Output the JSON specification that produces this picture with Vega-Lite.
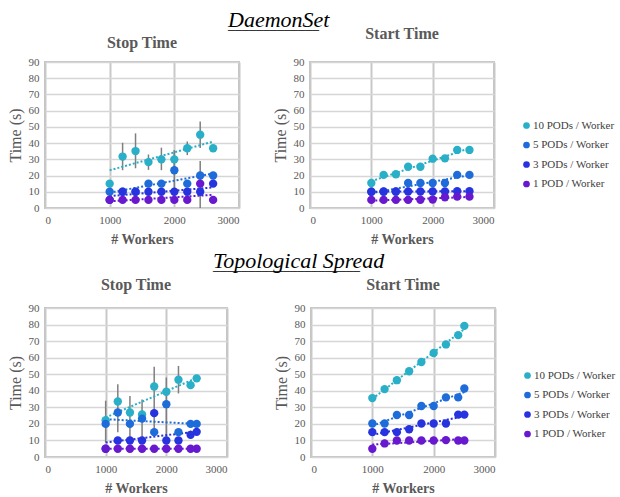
{
  "$schema": "https://vega.github.io/schema/vega-lite/v6.json",
  "padding": {"left": 6, "top": 9, "right": 0, "bottom": 0},
  "background": "white",
  "datasets": {
    "d": [
      {"p": "a", "s": "10 PODs / Worker", "x": 1000, "y": 15},
      {"p": "a", "s": "10 PODs / Worker", "x": 1200, "y": 31.7, "lo": 23.3, "hi": 40.2},
      {"p": "a", "s": "10 PODs / Worker", "x": 1400, "y": 35.1, "lo": 24.5, "hi": 46},
      {"p": "a", "s": "10 PODs / Worker", "x": 1600, "y": 28.3, "lo": 23.5, "hi": 33},
      {"p": "a", "s": "10 PODs / Worker", "x": 1800, "y": 30, "lo": 23.3, "hi": 37.2},
      {"p": "a", "s": "10 PODs / Worker", "x": 2000, "y": 30, "lo": 24.5, "hi": 35.5},
      {"p": "a", "s": "10 PODs / Worker", "x": 2200, "y": 36.8, "lo": 32.6, "hi": 41},
      {"p": "a", "s": "10 PODs / Worker", "x": 2400, "y": 45.2, "lo": 37, "hi": 53.3},
      {"p": "a", "s": "10 PODs / Worker", "x": 2600, "y": 36.8},
      {"p": "a", "s": "5 PODs / Worker", "x": 1000, "y": 10},
      {"p": "a", "s": "5 PODs / Worker", "x": 1200, "y": 10},
      {"p": "a", "s": "5 PODs / Worker", "x": 1400, "y": 10},
      {"p": "a", "s": "5 PODs / Worker", "x": 1600, "y": 15},
      {"p": "a", "s": "5 PODs / Worker", "x": 1800, "y": 15},
      {"p": "a", "s": "5 PODs / Worker", "x": 2000, "y": 23.3, "lo": 10, "hi": 35.5},
      {"p": "a", "s": "5 PODs / Worker", "x": 2200, "y": 15},
      {"p": "a", "s": "5 PODs / Worker", "x": 2400, "y": 20, "lo": 0, "hi": 29},
      {"p": "a", "s": "5 PODs / Worker", "x": 2600, "y": 20},
      {"p": "a", "s": "3 PODs / Worker", "x": 1000, "y": 5},
      {"p": "a", "s": "3 PODs / Worker", "x": 1200, "y": 10},
      {"p": "a", "s": "3 PODs / Worker", "x": 1400, "y": 10},
      {"p": "a", "s": "3 PODs / Worker", "x": 1600, "y": 10},
      {"p": "a", "s": "3 PODs / Worker", "x": 1800, "y": 10},
      {"p": "a", "s": "3 PODs / Worker", "x": 2000, "y": 10},
      {"p": "a", "s": "3 PODs / Worker", "x": 2200, "y": 10},
      {"p": "a", "s": "3 PODs / Worker", "x": 2400, "y": 10},
      {"p": "a", "s": "3 PODs / Worker", "x": 2600, "y": 15},
      {"p": "a", "s": "1 POD / Worker", "x": 1000, "y": 5},
      {"p": "a", "s": "1 POD / Worker", "x": 1200, "y": 5},
      {"p": "a", "s": "1 POD / Worker", "x": 1400, "y": 5},
      {"p": "a", "s": "1 POD / Worker", "x": 1600, "y": 5},
      {"p": "a", "s": "1 POD / Worker", "x": 1800, "y": 5},
      {"p": "a", "s": "1 POD / Worker", "x": 2000, "y": 5},
      {"p": "a", "s": "1 POD / Worker", "x": 2200, "y": 5},
      {"p": "a", "s": "1 POD / Worker", "x": 2400, "y": 15},
      {"p": "a", "s": "1 POD / Worker", "x": 2600, "y": 5},

      {"p": "b", "s": "10 PODs / Worker", "x": 1000, "y": 15.4},
      {"p": "b", "s": "10 PODs / Worker", "x": 1200, "y": 20.4},
      {"p": "b", "s": "10 PODs / Worker", "x": 1400, "y": 20.8},
      {"p": "b", "s": "10 PODs / Worker", "x": 1600, "y": 25.4},
      {"p": "b", "s": "10 PODs / Worker", "x": 1800, "y": 25.4},
      {"p": "b", "s": "10 PODs / Worker", "x": 2000, "y": 30.4},
      {"p": "b", "s": "10 PODs / Worker", "x": 2200, "y": 30.6},
      {"p": "b", "s": "10 PODs / Worker", "x": 2400, "y": 35.8},
      {"p": "b", "s": "10 PODs / Worker", "x": 2600, "y": 35.8},
      {"p": "b", "s": "5 PODs / Worker", "x": 1000, "y": 10},
      {"p": "b", "s": "5 PODs / Worker", "x": 1200, "y": 10},
      {"p": "b", "s": "5 PODs / Worker", "x": 1400, "y": 10},
      {"p": "b", "s": "5 PODs / Worker", "x": 1600, "y": 15.4},
      {"p": "b", "s": "5 PODs / Worker", "x": 1800, "y": 15.4},
      {"p": "b", "s": "5 PODs / Worker", "x": 2000, "y": 15.4},
      {"p": "b", "s": "5 PODs / Worker", "x": 2200, "y": 15.4},
      {"p": "b", "s": "5 PODs / Worker", "x": 2400, "y": 20.4},
      {"p": "b", "s": "5 PODs / Worker", "x": 2600, "y": 20.4},
      {"p": "b", "s": "3 PODs / Worker", "x": 1000, "y": 10},
      {"p": "b", "s": "3 PODs / Worker", "x": 1200, "y": 10.2},
      {"p": "b", "s": "3 PODs / Worker", "x": 1400, "y": 10.2},
      {"p": "b", "s": "3 PODs / Worker", "x": 1600, "y": 10.2},
      {"p": "b", "s": "3 PODs / Worker", "x": 1800, "y": 10.2},
      {"p": "b", "s": "3 PODs / Worker", "x": 2000, "y": 10.2},
      {"p": "b", "s": "3 PODs / Worker", "x": 2200, "y": 10.2},
      {"p": "b", "s": "3 PODs / Worker", "x": 2400, "y": 10.4},
      {"p": "b", "s": "3 PODs / Worker", "x": 2600, "y": 10.4},
      {"p": "b", "s": "1 POD / Worker", "x": 1000, "y": 5},
      {"p": "b", "s": "1 POD / Worker", "x": 1200, "y": 5},
      {"p": "b", "s": "1 POD / Worker", "x": 1400, "y": 5},
      {"p": "b", "s": "1 POD / Worker", "x": 1600, "y": 5},
      {"p": "b", "s": "1 POD / Worker", "x": 1800, "y": 5.1},
      {"p": "b", "s": "1 POD / Worker", "x": 2000, "y": 5.2},
      {"p": "b", "s": "1 POD / Worker", "x": 2200, "y": 6.6, "lo": 5.3, "hi": 7.8},
      {"p": "b", "s": "1 POD / Worker", "x": 2400, "y": 7, "lo": 5.5, "hi": 8.3},
      {"p": "b", "s": "1 POD / Worker", "x": 2600, "y": 7, "lo": 5.5, "hi": 8.3},

      {"p": "c", "s": "10 PODs / Worker", "x": 1000, "y": 22.2, "lo": 8.7, "hi": 34},
      {"p": "c", "s": "10 PODs / Worker", "x": 1200, "y": 33.5, "lo": 15, "hi": 44},
      {"p": "c", "s": "10 PODs / Worker", "x": 1400, "y": 26.9, "lo": 10, "hi": 36.8},
      {"p": "c", "s": "10 PODs / Worker", "x": 1600, "y": 25.7, "lo": 9.7, "hi": 34.7},
      {"p": "c", "s": "10 PODs / Worker", "x": 1800, "y": 42.6, "lo": 15, "hi": 54.5},
      {"p": "c", "s": "10 PODs / Worker", "x": 2000, "y": 39.4, "lo": 10, "hi": 48},
      {"p": "c", "s": "10 PODs / Worker", "x": 2200, "y": 46.7, "lo": 38.4, "hi": 55},
      {"p": "c", "s": "10 PODs / Worker", "x": 2400, "y": 43.4},
      {"p": "c", "s": "10 PODs / Worker", "x": 2500, "y": 47.5},
      {"p": "c", "s": "5 PODs / Worker", "x": 1000, "y": 20},
      {"p": "c", "s": "5 PODs / Worker", "x": 1200, "y": 26.9},
      {"p": "c", "s": "5 PODs / Worker", "x": 1400, "y": 20},
      {"p": "c", "s": "5 PODs / Worker", "x": 1600, "y": 23.2},
      {"p": "c", "s": "5 PODs / Worker", "x": 1800, "y": 15},
      {"p": "c", "s": "5 PODs / Worker", "x": 2000, "y": 31.9},
      {"p": "c", "s": "5 PODs / Worker", "x": 2200, "y": 15},
      {"p": "c", "s": "5 PODs / Worker", "x": 2400, "y": 20},
      {"p": "c", "s": "5 PODs / Worker", "x": 2500, "y": 20},
      {"p": "c", "s": "3 PODs / Worker", "x": 1000, "y": 5},
      {"p": "c", "s": "3 PODs / Worker", "x": 1200, "y": 10},
      {"p": "c", "s": "3 PODs / Worker", "x": 1400, "y": 10},
      {"p": "c", "s": "3 PODs / Worker", "x": 1600, "y": 10},
      {"p": "c", "s": "3 PODs / Worker", "x": 1800, "y": 26.5},
      {"p": "c", "s": "3 PODs / Worker", "x": 2000, "y": 10},
      {"p": "c", "s": "3 PODs / Worker", "x": 2200, "y": 10},
      {"p": "c", "s": "3 PODs / Worker", "x": 2400, "y": 13.4, "lo": 11.2, "hi": 16},
      {"p": "c", "s": "3 PODs / Worker", "x": 2500, "y": 15.2},
      {"p": "c", "s": "1 POD / Worker", "x": 1000, "y": 5},
      {"p": "c", "s": "1 POD / Worker", "x": 1200, "y": 5},
      {"p": "c", "s": "1 POD / Worker", "x": 1400, "y": 5},
      {"p": "c", "s": "1 POD / Worker", "x": 1600, "y": 5},
      {"p": "c", "s": "1 POD / Worker", "x": 1800, "y": 5},
      {"p": "c", "s": "1 POD / Worker", "x": 2000, "y": 5},
      {"p": "c", "s": "1 POD / Worker", "x": 2200, "y": 5},
      {"p": "c", "s": "1 POD / Worker", "x": 2400, "y": 5},
      {"p": "c", "s": "1 POD / Worker", "x": 2500, "y": 5},

      {"p": "d", "s": "10 PODs / Worker", "x": 1000, "y": 35.6},
      {"p": "d", "s": "10 PODs / Worker", "x": 1200, "y": 41},
      {"p": "d", "s": "10 PODs / Worker", "x": 1400, "y": 46.4},
      {"p": "d", "s": "10 PODs / Worker", "x": 1600, "y": 51.8},
      {"p": "d", "s": "10 PODs / Worker", "x": 1800, "y": 57.4},
      {"p": "d", "s": "10 PODs / Worker", "x": 2000, "y": 62.8},
      {"p": "d", "s": "10 PODs / Worker", "x": 2200, "y": 68},
      {"p": "d", "s": "10 PODs / Worker", "x": 2400, "y": 73.6},
      {"p": "d", "s": "10 PODs / Worker", "x": 2500, "y": 79.2},
      {"p": "d", "s": "5 PODs / Worker", "x": 1000, "y": 20.2},
      {"p": "d", "s": "5 PODs / Worker", "x": 1200, "y": 20.2},
      {"p": "d", "s": "5 PODs / Worker", "x": 1400, "y": 25.4},
      {"p": "d", "s": "5 PODs / Worker", "x": 1600, "y": 25.4},
      {"p": "d", "s": "5 PODs / Worker", "x": 1800, "y": 30.8},
      {"p": "d", "s": "5 PODs / Worker", "x": 2000, "y": 30.8},
      {"p": "d", "s": "5 PODs / Worker", "x": 2200, "y": 36},
      {"p": "d", "s": "5 PODs / Worker", "x": 2400, "y": 36},
      {"p": "d", "s": "5 PODs / Worker", "x": 2500, "y": 41.4},
      {"p": "d", "s": "3 PODs / Worker", "x": 1000, "y": 15},
      {"p": "d", "s": "3 PODs / Worker", "x": 1200, "y": 15},
      {"p": "d", "s": "3 PODs / Worker", "x": 1400, "y": 15},
      {"p": "d", "s": "3 PODs / Worker", "x": 1600, "y": 16.8, "lo": 14.2, "hi": 19.2},
      {"p": "d", "s": "3 PODs / Worker", "x": 1800, "y": 20.2},
      {"p": "d", "s": "3 PODs / Worker", "x": 2000, "y": 20.2},
      {"p": "d", "s": "3 PODs / Worker", "x": 2200, "y": 20.2},
      {"p": "d", "s": "3 PODs / Worker", "x": 2400, "y": 25.6},
      {"p": "d", "s": "3 PODs / Worker", "x": 2500, "y": 25.6},
      {"p": "d", "s": "1 POD / Worker", "x": 1000, "y": 5},
      {"p": "d", "s": "1 POD / Worker", "x": 1200, "y": 8.2, "lo": 6, "hi": 10.4},
      {"p": "d", "s": "1 POD / Worker", "x": 1400, "y": 10},
      {"p": "d", "s": "1 POD / Worker", "x": 1600, "y": 10},
      {"p": "d", "s": "1 POD / Worker", "x": 1800, "y": 10},
      {"p": "d", "s": "1 POD / Worker", "x": 2000, "y": 10},
      {"p": "d", "s": "1 POD / Worker", "x": 2200, "y": 10.2},
      {"p": "d", "s": "1 POD / Worker", "x": 2400, "y": 10},
      {"p": "d", "s": "1 POD / Worker", "x": 2500, "y": 10}
    ]
  },
  "data": {"name": "d"},
  "resolve": {"legend": {"color": "independent"}},
  "spacing": 3,
  "vconcat": [
    {
      "title": {"text": "DaemonSet", "subtitle": "_____________", "anchor": "start", "dx": 222, "offset": -8, "fontSize": 22, "fontStyle": "italic", "fontWeight": "normal", "color": "#000000", "subtitleFontSize": 14, "subtitlePadding": -14},
      "spacing": 31,
      "resolve": {"legend": {"color": "independent"}},
      "hconcat": [
        {
          "width": 194, "height": 146,
          "title": {"text": "Stop Time", "offset": 5},
          "transform": [{"filter": "datum.p == 'a'"}],
          "encoding": {
            "x": {"field": "x", "type": "quantitative", "scale": {"domain": [0, 3000]}, "axis": {"values": [0, 1000, 2000, 3000], "format": "d", "title": "# Workers", "titleFontWeight": "bold"}},
            "y": {"field": "y", "type": "quantitative", "scale": {"domain": [0, 90]}, "axis": {"values": [0, 10, 20, 30, 40, 50, 60, 70, 80, 90], "title": "Time (s)"}}
          },
          "layer": [
            {"transform": [{"filter": "isValid(datum.lo)"}], "mark": {"type": "rule", "color": "#7f7f7f", "strokeWidth": 1.5}, "encoding": {"y": {"field": "lo", "type": "quantitative", "scale": {"domain": [0, 90]}, "axis": {"values": [0, 10, 20, 30, 40, 50, 60, 70, 80, 90], "title": "Time (s)"}}, "y2": {"field": "hi"}}},
            {"transform": [{"regression": "y", "on": "x", "groupby": ["s"]}], "mark": {"type": "line", "strokeDash": [2, 2], "strokeWidth": 2}, "encoding": {"color": {"field": "s", "type": "nominal", "scale": {"domain": ["10 PODs / Worker", "5 PODs / Worker", "3 PODs / Worker", "1 POD / Worker"], "range": ["#29AFC7", "#1E6CD9", "#2733DF", "#6818CF"]}, "legend": null}}},
            {"mark": {"type": "circle", "size": 70, "opacity": 1}, "encoding": {"color": {"field": "s", "type": "nominal", "legend": null}}}
          ]
        },
        {
          "width": 184, "height": 146,
          "title": {"text": "Start Time", "offset": 14},
          "transform": [{"filter": "datum.p == 'b'"}],
          "encoding": {
            "x": {"field": "x", "type": "quantitative", "scale": {"domain": [0, 3000]}, "axis": {"values": [0, 1000, 2000, 3000], "format": "d", "title": "# Workers", "titleFontWeight": "bold"}},
            "y": {"field": "y", "type": "quantitative", "scale": {"domain": [0, 90]}, "axis": {"values": [0, 10, 20, 30, 40, 50, 60, 70, 80, 90], "title": "Time (s)"}}
          },
          "layer": [
            {"transform": [{"filter": "isValid(datum.lo)"}], "mark": {"type": "rule", "color": "#7f7f7f", "strokeWidth": 1.5}, "encoding": {"y": {"field": "lo", "type": "quantitative", "scale": {"domain": [0, 90]}, "axis": {"values": [0, 10, 20, 30, 40, 50, 60, 70, 80, 90], "title": "Time (s)"}}, "y2": {"field": "hi"}}},
            {"transform": [{"regression": "y", "on": "x", "groupby": ["s"]}], "mark": {"type": "line", "strokeDash": [2, 2], "strokeWidth": 2}, "encoding": {"color": {"field": "s", "type": "nominal", "scale": {"domain": ["10 PODs / Worker", "5 PODs / Worker", "3 PODs / Worker", "1 POD / Worker"], "range": ["#29AFC7", "#1E6CD9", "#2733DF", "#6818CF"]}, "legend": {"orient": "none", "legendX": 211, "legendY": 58, "labelFont": "Liberation Serif", "labelFontSize": 11}}}},
            {"mark": {"type": "circle", "size": 70, "opacity": 1}, "encoding": {"color": {"field": "s", "type": "nominal", "legend": {"orient": "none", "legendX": 211, "legendY": 58, "labelFont": "Liberation Serif", "labelFontSize": 11}}}}
          ]
        }
      ]
    },
    {
      "title": {"text": "Topological Spread", "subtitle": "_____________________", "anchor": "start", "dx": 207, "offset": 2, "fontSize": 22, "fontStyle": "italic", "fontWeight": "normal", "color": "#000000", "subtitleFontSize": 14, "subtitlePadding": -14},
      "spacing": 44,
      "resolve": {"legend": {"color": "independent"}},
      "hconcat": [
        {
          "width": 182, "height": 149,
          "title": {"text": "Stop Time", "offset": 9},
          "transform": [{"filter": "datum.p == 'c'"}],
          "encoding": {
            "x": {"field": "x", "type": "quantitative", "scale": {"domain": [0, 3000]}, "axis": {"values": [0, 1000, 2000, 3000], "format": "d", "title": "# Workers", "titleFontWeight": "bold"}},
            "y": {"field": "y", "type": "quantitative", "scale": {"domain": [0, 90]}, "axis": {"values": [0, 10, 20, 30, 40, 50, 60, 70, 80, 90], "title": "Time (s)"}}
          },
          "layer": [
            {"transform": [{"filter": "isValid(datum.lo)"}], "mark": {"type": "rule", "color": "#7f7f7f", "strokeWidth": 1.5}, "encoding": {"y": {"field": "lo", "type": "quantitative", "scale": {"domain": [0, 90]}, "axis": {"values": [0, 10, 20, 30, 40, 50, 60, 70, 80, 90], "title": "Time (s)"}}, "y2": {"field": "hi"}}},
            {"transform": [{"regression": "y", "on": "x", "groupby": ["s"]}], "mark": {"type": "line", "strokeDash": [2, 2], "strokeWidth": 2}, "encoding": {"color": {"field": "s", "type": "nominal", "scale": {"domain": ["10 PODs / Worker", "5 PODs / Worker", "3 PODs / Worker", "1 POD / Worker"], "range": ["#29AFC7", "#1E6CD9", "#2733DF", "#6818CF"]}, "legend": null}}},
            {"mark": {"type": "circle", "size": 70, "opacity": 1}, "encoding": {"color": {"field": "s", "type": "nominal", "legend": null}}}
          ]
        },
        {
          "width": 184, "height": 149,
          "title": {"text": "Start Time", "offset": 9},
          "transform": [{"filter": "datum.p == 'd'"}],
          "encoding": {
            "x": {"field": "x", "type": "quantitative", "scale": {"domain": [0, 3000]}, "axis": {"values": [0, 1000, 2000, 3000], "format": "d", "title": "# Workers", "titleFontWeight": "bold"}},
            "y": {"field": "y", "type": "quantitative", "scale": {"domain": [0, 90]}, "axis": {"values": [0, 10, 20, 30, 40, 50, 60, 70, 80, 90], "title": "Time (s)"}}
          },
          "layer": [
            {"transform": [{"filter": "isValid(datum.lo)"}], "mark": {"type": "rule", "color": "#7f7f7f", "strokeWidth": 1.5}, "encoding": {"y": {"field": "lo", "type": "quantitative", "scale": {"domain": [0, 90]}, "axis": {"values": [0, 10, 20, 30, 40, 50, 60, 70, 80, 90], "title": "Time (s)"}}, "y2": {"field": "hi"}}},
            {"transform": [{"regression": "y", "on": "x", "groupby": ["s"]}], "mark": {"type": "line", "strokeDash": [2, 2], "strokeWidth": 2}, "encoding": {"color": {"field": "s", "type": "nominal", "scale": {"domain": ["10 PODs / Worker", "5 PODs / Worker", "3 PODs / Worker", "1 POD / Worker"], "range": ["#29AFC7", "#1E6CD9", "#2733DF", "#6818CF"]}, "legend": {"orient": "none", "legendX": 211, "legendY": 62, "labelFont": "Liberation Serif", "labelFontSize": 11}}}},
            {"mark": {"type": "circle", "size": 70, "opacity": 1}, "encoding": {"color": {"field": "s", "type": "nominal", "legend": {"orient": "none", "legendX": 211, "legendY": 62, "labelFont": "Liberation Serif", "labelFontSize": 11}}}}
          ]
        }
      ]
    }
  ],
  "config": {
    "font": "Liberation Serif",
    "view": {"stroke": "#c4c4c4", "strokeWidth": 2},
    "axis": {
      "domain": false, "ticks": false,
      "labelFont": "Liberation Serif", "labelFontSize": 11, "labelColor": "#595959", "labelPadding": 6,
      "gridColor": "#d6d6d6", "gridWidth": 1.5,
      "titleFont": "Liberation Serif", "titleFontSize": 14, "titleColor": "#595959", "titleFontWeight": "normal", "titlePadding": 7
    },
    "axisY": {"titleFontSize": 16, "titlePadding": 5},
    "axisX": {"gridColor": "#c8c8c8", "gridWidth": 2},
    "title": {
      "font": "Liberation Serif", "fontSize": 16, "fontWeight": "bold", "color": "#595959",
      "subtitleFont": "Liberation Serif", "subtitleFontSize": 14, "subtitleColor": "#000000"
    },
    "legend": {
      "title": null, "symbolType": "circle", "symbolSize": 45, "labelFont": "Liberation Serif", "labelFontSize": 11, "labelColor": "#404040", "rowPadding": 7.5, "symbolStrokeWidth": 0, "labelOffset": 1, "padding": 0
    }
  }
}
